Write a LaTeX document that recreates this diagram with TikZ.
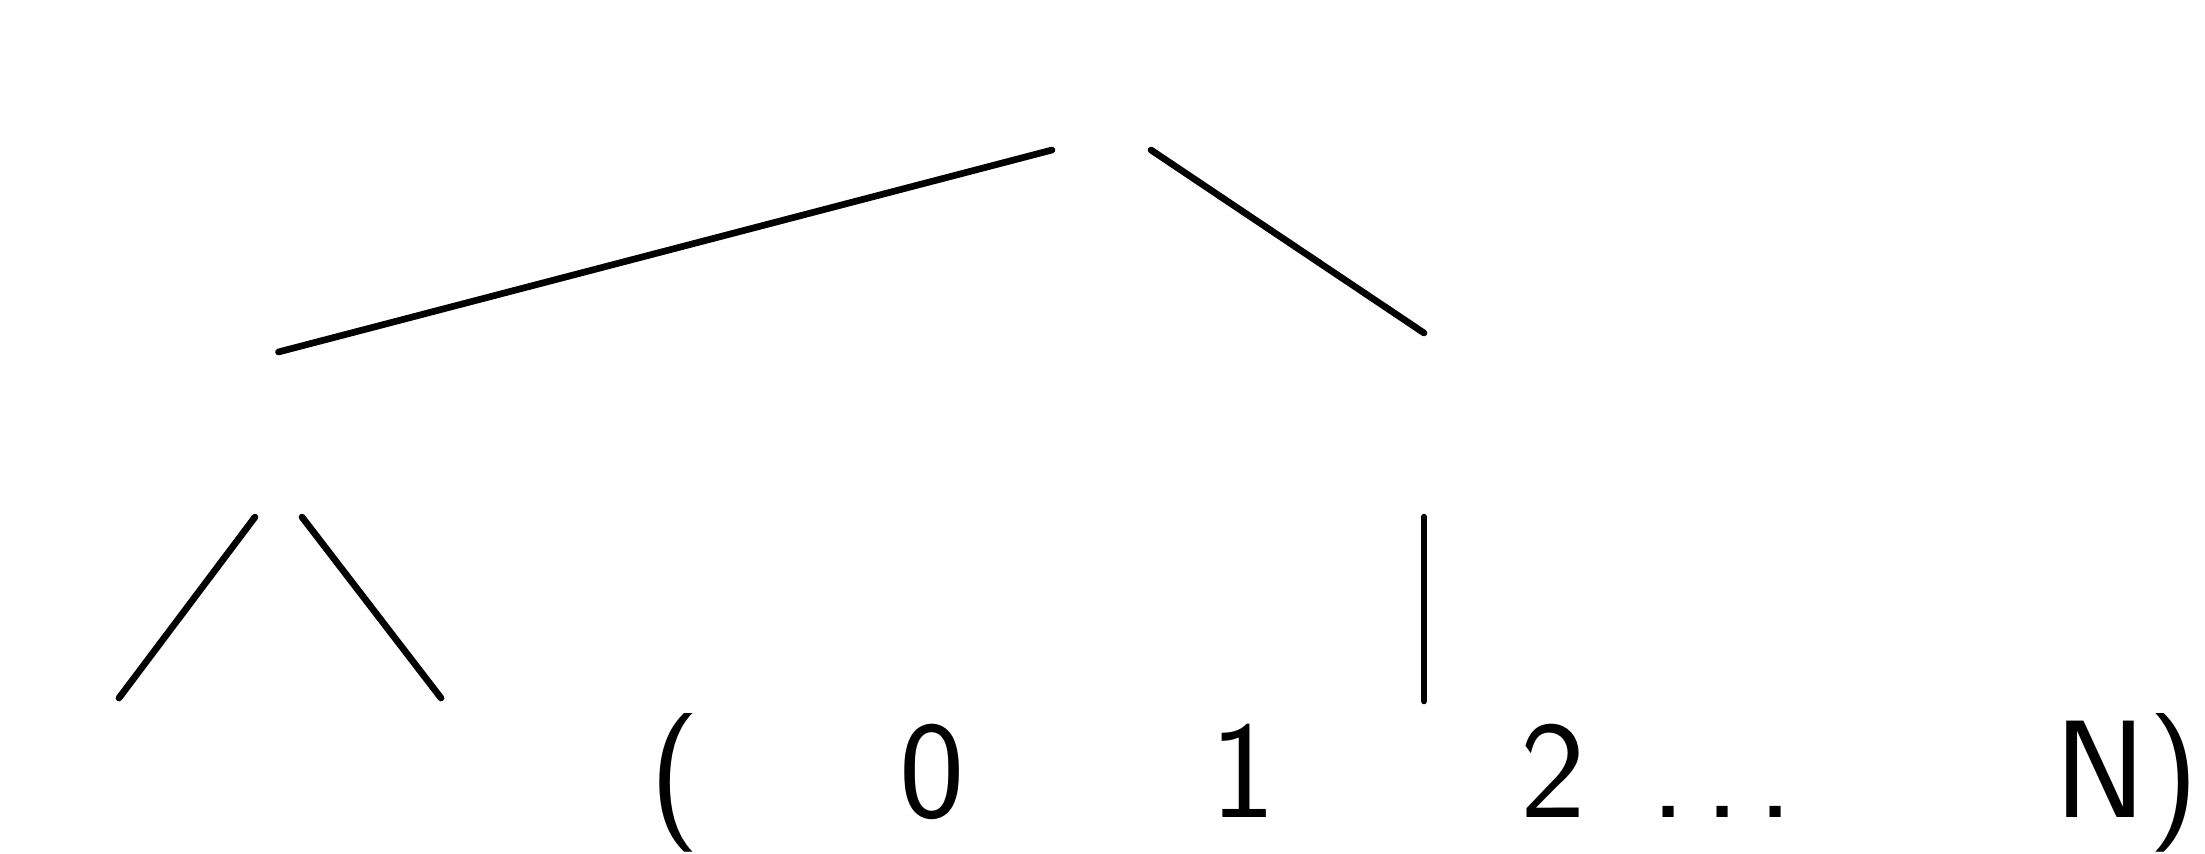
\documentclass[tikz,border=0pt]{standalone}
\usepackage{tikz}
\usetikzlibrary{positioning, calc}
\newcommand{\slot}[1]{\makebox[0pt]{#1}}
\tikzset{branch/.style={line width=1.9pt, line cap=round},
  hole/.style={inner sep=0pt, outer sep=0pt}}

\begin{document}
\begin{tikzpicture}[x=0.01cm, y=-0.01cm]
\useasboundingbox (0,0) rectangle (2205,853);
\node[hole, minimum width=0.99cm, minimum height=0.4cm] (root) at (1101.5,130) {};
\node[hole, minimum width=0.47cm, minimum height=1.65cm] (lft) at (278.5,434.5) {};
\node[hole, minimum height=1.84cm] (rgt) at (1424,425) {};
\coordinate (lla) at (119,698);
\coordinate (llb) at (441,698);
\node[hole, inner ysep=0.12cm, anchor=base west, font=\sffamily\fontsize{39.5pt}{47pt}\selectfont] (seq) at (675,817)
  {\slot{(}\hspace{2.57cm}\slot{0}\hspace{3.11cm}\slot{1}\hspace{3.10cm}\slot{2}%
   \hspace{1.15cm}\slot{.}\hspace{0.54cm}\slot{.}\hspace{0.53cm}\slot{.}%
   \hspace{3.25cm}\slot{N}\hspace{0.73cm}\slot{)}};
\foreach \a/\b in {root.south west/lft.north, root.south east/rgt.north,
  lft.south west/lla, lft.south east/llb, rgt.south/rgt.south |- seq.north}
  \draw[branch] (\a) -- (\b);
\end{tikzpicture}
\end{document}
